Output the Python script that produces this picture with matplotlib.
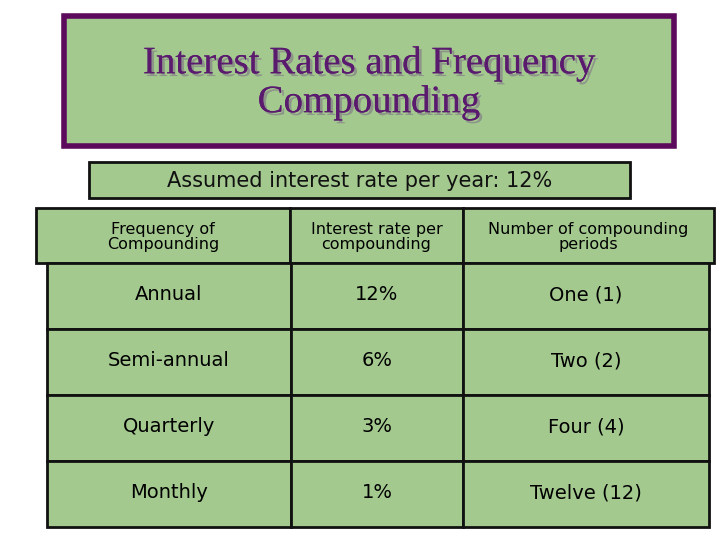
import matplotlib
matplotlib.use("Agg")
import matplotlib.pyplot as plt
from matplotlib.patches import Rectangle
import matplotlib.patheffects as pe

title = "Interest Rates and Frequency\nCompounding"
subtitle = "Assumed interest rate per year: 12%"
headers = ["Frequency of\nCompounding", "Interest rate per\ncompounding", "Number of compounding\nperiods"]
frequencies = ["Annual", "Semi-annual", "Quarterly", "Monthly"]
rates = ["12%", "6%", "3%", "1%"]
periods = ["One (1)", "Two (2)", "Four (4)", "Twelve (12)"]

GREEN = "#a3c98f"
PURPLE = "#5c0a5c"
FONT = ["DejaVu Sans"]

fig = plt.figure(figsize=(7.2, 5.4), dpi=100)
ax = fig.add_axes([0, 0, 1, 1])
ax.set_xlim(0, 720)
ax.set_ylim(540, 0)
ax.axis("off")

def box(x0, y0, x1, y1, lw=2, ec="#111111"):
    ax.add_patch(Rectangle((x0, y0), x1 - x0, y1 - y0, facecolor=GREEN, edgecolor=ec, lw=lw))

# title
box(64, 16, 674, 146, lw=4, ec=PURPLE)
ax.text(369, 83, title, ha="center", va="center", fontsize=28, family="Liberation Serif",
        color="#5a1a6e", linespacing=1.05,
        path_effects=[pe.withSimplePatchShadow(offset=(2, -2), shadow_rgbFace="#888888", alpha=0.8), pe.Normal()])

# subtitle
box(89, 162, 630, 198)
ax.text(360, 181, subtitle, ha="center", va="center", fontsize=15, family=FONT, color="#111111")

# header row
hx = [36, 290, 463, 714]
for i, h in enumerate(headers):
    box(hx[i], 208, hx[i + 1], 263)
    ax.text((hx[i] + hx[i + 1]) / 2, 237, h, ha="center", va="center", fontsize=11.5,
            family=FONT, linespacing=1.05)

# data rows
dx = [47, 291, 463, 709]
y0 = 263
rh = 66
for r in range(len(frequencies)):
    ya = y0 + r * rh
    vals = [frequencies[r], rates[r], periods[r]]
    for c in range(3):
        box(dx[c], ya, dx[c + 1], ya + rh)
        ax.text((dx[c] + dx[c + 1]) / 2, ya + 32, vals[c], ha="center", va="center",
                fontsize=14, family=FONT)

fig.savefig("out.png", dpi=100)
